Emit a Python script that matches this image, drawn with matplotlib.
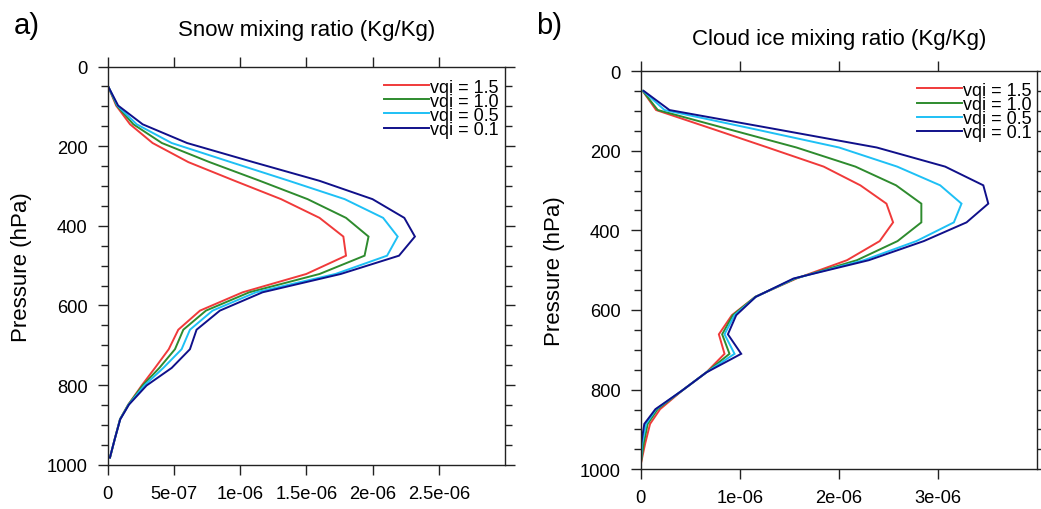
"""Vertical profiles of snow and cloud ice mixing ratio for four vqi settings."""
import matplotlib
matplotlib.use("Agg")
import matplotlib.pyplot as plt
from matplotlib.ticker import MultipleLocator, NullLocator, FixedLocator

plt.rcParams["font.family"] = ["Liberation Sans", "DejaVu Sans"]

# model levels (hPa)
pressure = [50, 98, 145, 192, 240, 287, 333, 380, 427, 475, 521,
            567, 613, 661, 710, 757, 801, 849, 886, 935, 982]

vqi_labels = ["vqi = 1.5", "vqi = 1.0", "vqi = 0.5", "vqi = 0.1"]
colors = ["#f03a3a", "#2e8b2e", "#1ec0f5", "#10108a"]

# snow mixing ratio, units of 1e-7 kg/kg
snow_15 = [0.05, 0.65, 1.7, 3.4, 6.1, 9.6, 13.1, 16.0, 17.8, 18.0, 15.0,
           10.2, 6.98, 5.34, 4.62, 3.58, 2.58, 1.57, 0.94, 0.55, 0.19]
snow_10 = [0.05, 0.7, 1.95, 4.1, 7.7, 11.5, 15.1, 18.0, 19.7, 19.4, 16.0,
           10.7, 7.43, 5.72, 5.09, 3.91, 2.65, 1.57, 0.94, 0.55, 0.19]
snow_05 = [0.05, 0.75, 2.2, 4.84, 9.3, 13.7, 17.9, 20.8, 21.9, 21.1, 17.2,
           11.2, 7.93, 6.22, 5.59, 4.21, 2.78, 1.6, 0.95, 0.55, 0.18]
snow_01 = [0.05, 0.8, 2.65, 6.0, 11.0, 16.0, 20.0, 22.4, 23.2, 22.0, 17.6,
           11.7, 8.48, 6.72, 6.22, 4.84, 2.95, 1.62, 0.96, 0.55, 0.18]

# cloud ice mixing ratio, units of 1e-7 kg/kg
ice_15 = [0.2, 1.55, 7.2, 12.8, 18.45, 22.15, 24.78, 25.45, 24.1, 20.8, 15.7,
          11.55, 9.19, 7.88, 8.45, 6.6, 4.24, 1.95, 0.94, 0.45, 0.05]
ice_10 = [0.2, 1.72, 8.7, 15.7, 21.65, 25.75, 28.3, 28.3, 25.9, 21.8, 15.6,
          11.55, 9.29, 8.21, 8.95, 6.6, 4.24, 1.7, 0.7, 0.3, 0.03]
ice_05 = [0.25, 2.4, 11.3, 20.0, 25.86, 30.2, 32.35, 31.58, 27.8, 22.5, 15.5,
          11.6, 9.46, 8.45, 9.46, 6.6, 4.24, 1.55, 0.54, 0.15, 0.02]
ice_01 = [0.3, 2.9, 13.4, 23.8, 30.7, 34.55, 35.05, 32.86, 28.55, 23.0, 15.4,
          11.6, 9.63, 8.79, 10.13, 6.6, 4.24, 1.48, 0.36, 0.05, 0.0]

snow_ticks = [0, 5e-7, 1e-6, 1.5e-6, 2e-6, 2.5e-6]
snow_ticklabels = ["0", "5e-07", "1e-06", "1.5e-06", "2e-06", "2.5e-06"]
ice_ticks = [0, 1e-6, 2e-6, 3e-6]
ice_ticklabels = ["0", "1e-06", "2e-06", "3e-06"]

AX_COLOR = "#222222"


def panel(ax, series, xmax, ticks, ticklabels, title, title_y, legend_y):
    for vals, col, lab in zip(series, colors, vqi_labels):
        ax.plot([v * 1e-7 for v in vals], pressure, color=col, lw=1.4,
                label=lab, solid_joinstyle="miter")

    ax.set_xlim(0, xmax)
    ax.set_ylim(1000, 0)
    ax.xaxis.set_major_locator(FixedLocator(ticks))
    ax.set_xticklabels(ticklabels)
    ax.xaxis.set_minor_locator(NullLocator())
    ax.yaxis.set_major_locator(MultipleLocator(200))
    ax.yaxis.set_minor_locator(MultipleLocator(50))

    ax.tick_params(which="both", direction="out", top=True, right=True,
                   color=AX_COLOR, width=1.0, labelsize=13.2, pad=7)
    ax.tick_params(which="major", length=7.5)
    ax.tick_params(which="minor", length=5)
    for sp in ax.spines.values():
        sp.set_color(AX_COLOR)
        sp.set_linewidth(1.0)

    ax.set_ylabel("Pressure (hPa)", fontsize=16)
    ax.yaxis.set_label_coords(-0.19, 0.5)
    ax.text(0.5, title_y, title, transform=ax.transAxes, ha="center",
            va="baseline", fontsize=16)

    ax.legend(loc="upper right", bbox_to_anchor=(0.985, legend_y),
              frameon=False, fontsize=13, handlelength=2.5,
              handletextpad=0.05, labelspacing=-0.16, borderpad=0,
              borderaxespad=0)


fig = plt.figure(figsize=(10.41, 5.10), dpi=100)
ax_a = fig.add_axes([0.1033, 0.0869, 0.3818, 0.7806])
ax_b = fig.add_axes([0.6155, 0.0778, 0.3810, 0.7810])

panel(ax_a, [snow_15, snow_10, snow_05, snow_01], 3e-6,
      snow_ticks, snow_ticklabels, "Snow mixing ratio (Kg/Kg)", 1.08, 0.970)
panel(ax_b, [ice_15, ice_10, ice_05, ice_01], 4e-6,
      ice_ticks, ice_ticklabels, "Cloud ice mixing ratio (Kg/Kg)", 1.068,
      0.973)

fig.text(0.0135, 0.933, "a)", fontsize=21, va="baseline")
fig.text(0.5150, 0.933, "b)", fontsize=21, va="baseline")

fig.savefig("out.png", dpi=100)
